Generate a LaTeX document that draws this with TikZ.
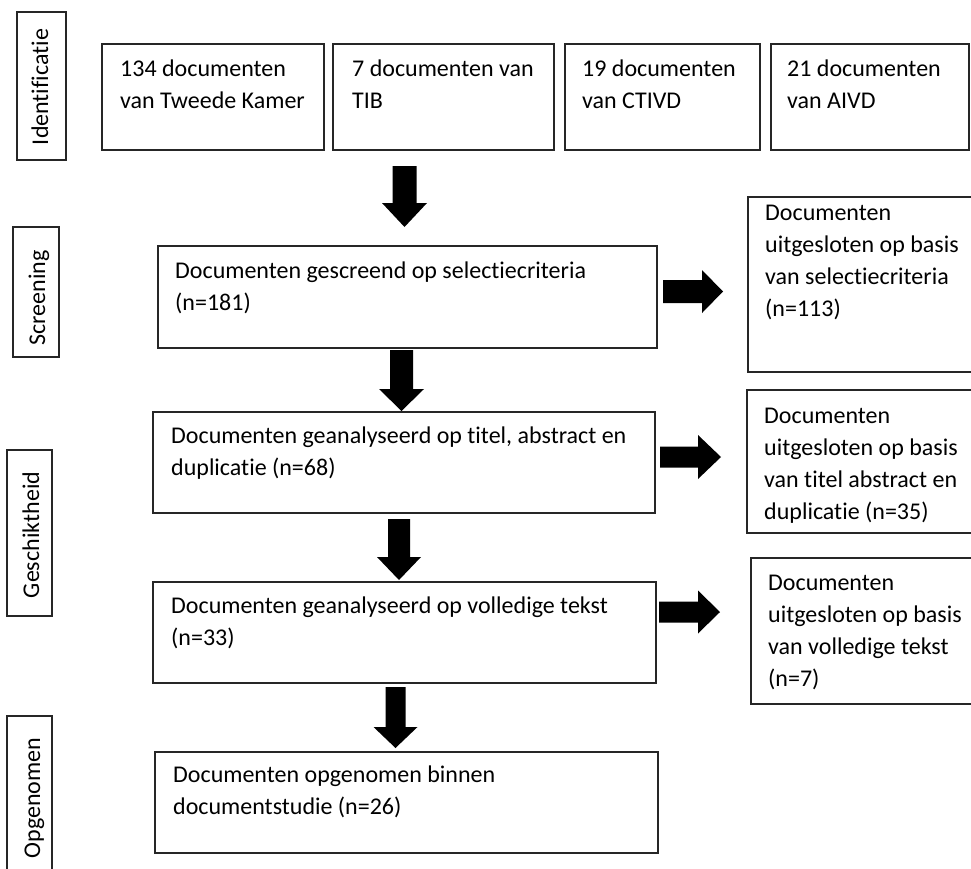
\documentclass[tikz,border=0pt]{standalone}
\usepackage{fontspec}
\setmainfont{Carlito}[Ligatures=NoCommon]
\usetikzlibrary{calc}
% multi-line text block whose baseline is that of its first line
\newcommand\mlines[1]{\parbox[t]{600pt}{\raggedright #1}}
% box node spanning the corners (x1,y1)-(x2,y2)
\newcommand\mkbox[5]{\node[box, anchor=north west, minimum width={#4-#2}, minimum height={#5-#3}] (#1) at (#2,#3) {};}
% solid block arrow pointing down: from, tip, shaft half width, head half width, head length
\newcommand\blockdown[5]{\fill[blk] let \p1=#1, \p2=#2 in
  (\x2-#3,\y1) -- (\x2+#3,\y1) -- (\x2+#3,\y2+#5) -- (\x2+#4,\y2+#5) -- (\x2,\y2)
  -- (\x2-#4,\y2+#5) -- (\x2-#3,\y2+#5) -- cycle;}
% solid block arrow pointing right: from, tip, shaft half width, head half width, head length
\newcommand\blockright[5]{\fill[blk] let \p1=#1, \p2=#2 in
  (\x1,\y2+#3) -- (\x1,\y2-#3) -- (\x2-#5,\y2-#3) -- (\x2-#5,\y2-#4) -- (\x2,\y2)
  -- (\x2-#5,\y2+#4) -- (\x2-#5,\y2+#3) -- cycle;}
\begin{document}
\begin{tikzpicture}[x=1pt,y=-1pt,
  box/.style={draw=black!85, line width=1.1pt, inner sep=0pt, outer sep=0pt},
  txt/.style={anchor=base west, inner sep=0pt, font=\fontsize{24}{32}\selectfont},
  side/.style={rotate=90, anchor=base, inner sep=0pt, font=\fontsize{24}{32}\selectfont},
  blk/.style={fill=black}]
\useasboundingbox (0,0) rectangle (971,868);
\clip (0,0) rectangle (971,868);

% phase labels on the left
\mkbox{pI}{17}{12}{66}{160}
\mkbox{pS}{13}{227}{59}{357}
\mkbox{pG}{7}{450}{52}{616}
\mkbox{pO}{7}{716}{52}{885}
\node[side] (pIt) at (48,87) {Identificatie};
\node[side] (pSt) at (45,298) {Screening};
\node[side] (pGt) at (39,535) {Geschiktheid};
\node[side] (pOt) at (40,798) {Opgenomen};

% sources
\mkbox{t1}{102}{44}{324}{150}
\mkbox{t2}{333}{44}{554}{150}
\mkbox{t3}{565}{44}{760}{150}
\mkbox{t4}{771}{44}{969}{150}
\node[txt] (t1t) at (120,76) {\mlines{134 documenten\\van Tweede Kamer}};
\node[txt] (t2t) at (352,76) {\mlines{7 documenten van\\TIB}};
\node[txt] (t3t) at (582,76) {\mlines{19 documenten\\van CTIVD}};
\node[txt] (t4t) at (787,76) {\mlines{21 documenten\\van AIVD}};

% main flow
\mkbox{scr}{158}{246}{657}{348}
\mkbox{ana}{153}{412}{655}{513}
\mkbox{vol}{153}{582}{656}{683}
\mkbox{opg}{155}{752}{658}{853}
\node[txt] (scrt) at (175,278) {\mlines{Documenten gescreend op selectiecriteria\\(n=181)}};
\node[txt] (anat) at (171,443) {\mlines{Documenten geanalyseerd op titel, abstract en\\duplicatie (n=68)}};
\node[txt] (volt) at (171,613) {\mlines{Documenten geanalyseerd op volledige tekst\\(n=33)}};
\node[txt] (opgt) at (173,782) {\mlines{Documenten opgenomen binnen\\documentstudie (n=26)}};

% exclusions
\mkbox{ex1}{748}{197}{990}{372}
\mkbox{ex2}{747}{390}{990}{533}
\mkbox{ex3}{751}{558}{990}{704}
\node[txt] (ex1t) at (765,220) {\mlines{Documenten\\uitgesloten op basis\\van selectiecriteria\\(n=113)}};
\node[txt] (ex2t) at (764,423) {\mlines{Documenten\\uitgesloten op basis\\van titel abstract en\\duplicatie (n=35)}};
\node[txt] (ex3t) at (768,590) {\mlines{Documenten\\uitgesloten op basis\\van volledige tekst\\(n=7)}};

% arrow columns and levels
\coordinate (c1) at (404.5,0);
\coordinate (c2) at (401.5,0);
\coordinate (c3) at (399,0);
\coordinate (c4) at (395.5,0);
\coordinate (r1) at (0,291.5);
\coordinate (r2) at (0,457);
\coordinate (r3) at (0,612);

% downward block arrows
\blockdown{([yshift=-16pt]c1 |- t2.south)}{([yshift=19pt]c1 |- scr.north)}{12pt}{22.5pt}{24pt}
\blockdown{([yshift=-2pt]c2 |- scr.south)}{([yshift=1pt]c2 |- ana.north)}{11.5pt}{22.5pt}{22pt}
\blockdown{([yshift=-6pt]c3 |- ana.south)}{([yshift=2pt]c3 |- vol.north)}{11pt}{22pt}{23pt}
\blockdown{([yshift=-4pt]c4 |- vol.south)}{([yshift=4pt]c4 |- opg.north)}{10pt}{22pt}{21pt}

% sideways block arrows
\blockright{([xshift=6pt]scr.east |- r1)}{([xshift=-25pt]ex1.west |- r1)}{11.5pt}{21.5pt}{21pt}
\blockright{([xshift=5pt]ana.east |- r2)}{([xshift=-26pt]ex2.west |- r2)}{10.5pt}{22pt}{23pt}
\blockright{([xshift=3pt]vol.east |- r3)}{([xshift=-31pt]ex3.west |- r3)}{10.5pt}{21.5pt}{22pt}
\end{tikzpicture}
\end{document}
